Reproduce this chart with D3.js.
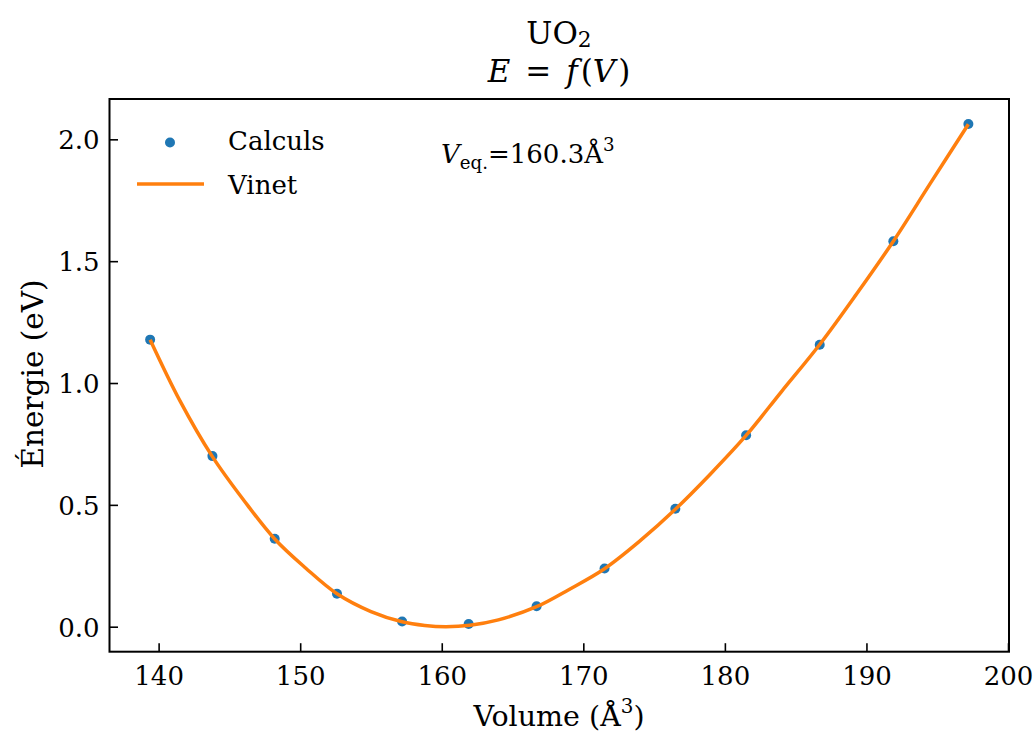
<!DOCTYPE html>
<html>
<head>
<meta charset="utf-8">
<script src="https://cdn.jsdelivr.net/npm/d3@7"></script>
<style>
  html, body { margin: 0; padding: 0; background: #fff; }
  svg { display: block; }
  text { font-family: "DejaVu Serif", serif; fill: #000; }
</style>
</head>
<body>
<svg id="chart" width="1035" height="733"></svg>
<script>
// ---- data ----
const volumes  = [139.4, 143.8, 148.2, 152.6, 157.2, 161.9, 166.7, 171.5, 176.5, 181.5, 186.7, 191.9, 197.2];
const energies = [1.178, 0.700, 0.361, 0.135, 0.021, 0.011, 0.084, 0.239, 0.484, 0.786, 1.157, 1.582, 2.063];
// fitted Vinet curve
const fitV = [139.4, 141.5, 143.8, 146.0, 148.2, 150.4, 152.6, 155.0, 157.2, 158.8, 160.3, 162.0, 164.0, 166.7, 169.0, 171.5, 174.0, 176.5, 179.0, 181.5, 184.0, 186.7, 189.3, 191.9, 194.5, 197.2];
const fitE = [1.178, 0.928, 0.698, 0.520, 0.360, 0.240, 0.135, 0.062, 0.020, 0.005, 0.000, 0.006, 0.028, 0.082, 0.153, 0.238, 0.352, 0.482, 0.628, 0.785, 0.965, 1.158, 1.365, 1.582, 1.818, 2.062];
const xTicks = [140, 150, 160, 170, 180, 190, 200];
const yTicks = [0.0, 0.5, 1.0, 1.5, 2.0];
const xDomain = [136.53, 200.07];
const yDomain = [-0.1026, 2.1655];
const legendLabels = ["Calculs", "Vinet"];
const veq = "160.3";

// ---- layout ----
const svg = d3.select("#chart");
const L = 109.5, R = 1009, T = 99, B = 651.7;
const FS = 26, FSL = 28.5, FST = 31;
const FAM = '"DejaVu Serif", serif';
const blue = "#1f77b4", orange = "#ff7f0e";

const x = d3.scaleLinear().domain(xDomain).range([L, R]);
const y = d3.scaleLinear().domain(yDomain).range([B, T]);

// axes (inward ticks)
const xAxis = d3.axisBottom(x).tickValues(xTicks).tickFormat(d3.format("d")).tickSizeInner(-8.5).tickSizeOuter(0).tickPadding(0);
const yAxis = d3.axisLeft(y).tickValues(yTicks).tickFormat(d3.format(".1f")).tickSizeInner(-8.5).tickSizeOuter(0).tickPadding(0);

const gx = svg.append("g").attr("transform", `translate(0,${B})`).call(xAxis);
gx.attr("font-family", null).attr("font-size", null);
gx.select(".domain").remove();
gx.selectAll(".tick line").attr("stroke", "#000").attr("stroke-width", 1.6);
gx.selectAll(".tick text").attr("font-size", FS).attr("y", 33).attr("dy", 0)
  .style("font-family", FAM).attr("fill", "#000");

const gy = svg.append("g").attr("transform", `translate(${L},0)`).call(yAxis);
gy.attr("font-family", null).attr("font-size", null);
gy.select(".domain").remove();
gy.selectAll(".tick line").attr("stroke", "#000").attr("stroke-width", 1.6);
gy.selectAll(".tick text").attr("font-size", FS).attr("x", -10).attr("dy", "0.36em")
  .style("font-family", FAM).attr("fill", "#000");

// curve
const line = d3.line().x((d, i) => x(fitV[i])).y((d, i) => y(fitE[i])).curve(d3.curveCatmullRom.alpha(0.5));

// points
svg.append("g").selectAll("circle").data(volumes).join("circle")
  .attr("cx", d => x(d)).attr("cy", (d, i) => y(energies[i])).attr("r", 5).attr("fill", blue);

// curve drawn over the points
svg.append("path").datum(fitE).attr("d", line)
  .attr("fill", "none").attr("stroke", orange).attr("stroke-width", 3.5);

// frame
svg.append("rect").attr("x", L).attr("y", T).attr("width", R - L).attr("height", B - T)
  .attr("fill", "none").attr("stroke", "#000").attr("stroke-width", 2);

// legend
svg.append("circle").attr("cx", 170).attr("cy", 142.5).attr("r", 5).attr("fill", blue);
svg.append("text").attr("x", 228).attr("y", 150).attr("font-size", FS).text(legendLabels[0]);
svg.append("line").attr("x1", 137).attr("x2", 204).attr("y1", 184).attr("y2", 184)
  .attr("stroke", orange).attr("stroke-width", 3.5);
svg.append("text").attr("x", 228).attr("y", 194).attr("font-size", FS).text(legendLabels[1]);

// annotation V_eq.
const ann = svg.append("text").attr("x", 441).attr("y", 163).attr("font-size", FS);
ann.append("tspan").attr("font-style", "italic").text("V");
ann.append("tspan").attr("font-size", FS * 0.7).attr("dy", 6).text("eq.");
ann.append("tspan").attr("dy", -6).text("=" + veq + "Å");
ann.append("tspan").attr("font-size", FS * 0.7).attr("dy", -12).text("3");

// title (two lines)
const t1 = svg.append("text").attr("x", 559).attr("y", 44).attr("text-anchor", "middle").attr("font-size", FST);
t1.append("tspan").text("UO");
t1.append("tspan").attr("font-size", FST * 0.7).attr("dy", 3).text("2");
const t2 = svg.append("text").attr("x", 559).attr("y", 82).attr("text-anchor", "middle").attr("font-size", FST);
t2.append("tspan").attr("font-style", "italic").text("E");
t2.append("tspan").attr("dx", 15).text("=");
t2.append("tspan").attr("dx", 15).attr("font-style", "italic").text("f");
t2.append("tspan").attr("dx", 3).text("(");
t2.append("tspan").attr("font-style", "italic").text("V");
t2.append("tspan").attr("dx", 3).text(")");

// axis labels
const xl = svg.append("text").attr("x", 559).attr("y", 726).attr("text-anchor", "middle").attr("font-size", FSL);
xl.append("tspan").text("Volume (Å");
xl.append("tspan").attr("font-size", FSL * 0.7).attr("dy", -13).text("3");
xl.append("tspan").attr("dy", 13).text(")");

svg.append("text").attr("transform", "translate(43,374) rotate(-90)")
  .attr("text-anchor", "middle").attr("font-size", FSL + 1).text("Énergie (eV)");
</script>
</body>
</html>
